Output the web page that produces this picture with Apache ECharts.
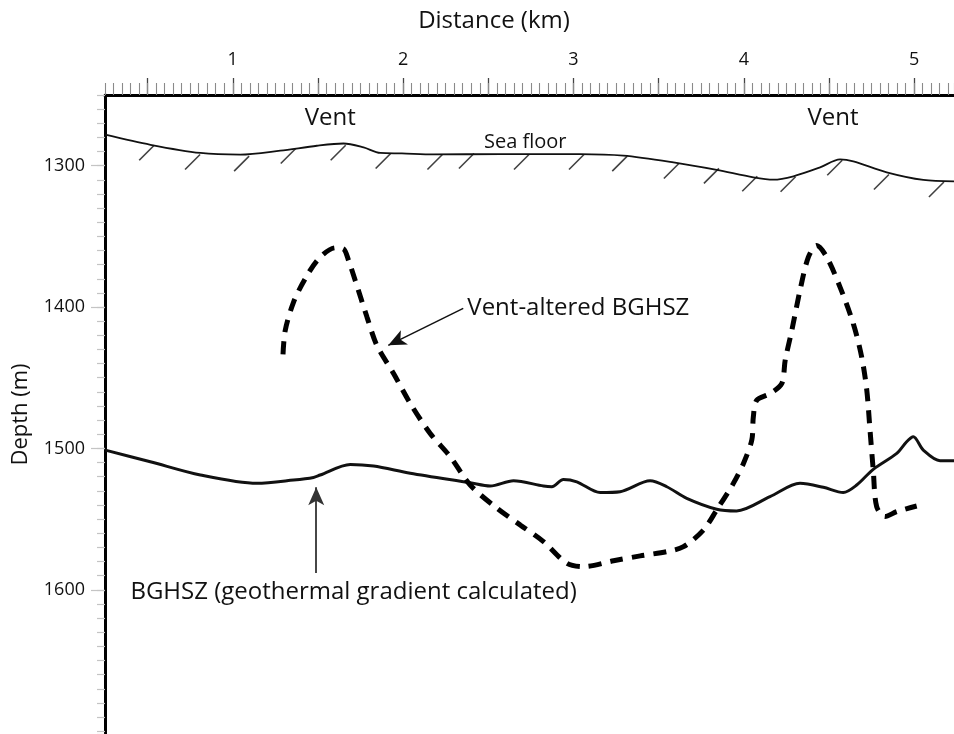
<!DOCTYPE html>
<html>
<head>
<meta charset="utf-8">
<style>
  html, body { margin: 0; padding: 0; background: #fff; }
  #chart { width: 954px; height: 734px; }
</style>
<script src="https://cdn.jsdelivr.net/npm/echarts@6/dist/echarts.min.js"></script>
</head>
<body>
<div id="chart"></div>
<script>
// distance along profile (km) and depth (m)
const seaFloorKm = [0.252, 0.517, 0.810, 1.044, 1.279, 1.494, 1.650, 1.768, 1.866, 1.993, 2.179, 2.570, 2.805, 3.039, 3.293, 3.587, 3.841, 4.056, 4.174, 4.291, 4.448, 4.565, 4.643, 4.839, 5.054, 5.234]
const seaFloorDepth = [1278.1, 1285.2, 1291.0, 1292.2, 1289.4, 1285.9, 1284.3, 1287.1, 1291.0, 1291.3, 1292.0, 1291.8, 1291.8, 1291.8, 1292.9, 1297.7, 1303.0, 1308.2, 1309.9, 1307.5, 1301.2, 1295.6, 1297.0, 1304.7, 1310.1, 1311.1]

// hatch marks under the sea floor
const hatchKm = [0.536, 0.805, 1.093, 1.367, 1.660, 1.924, 2.228, 2.413, 2.736, 3.059, 3.313, 3.616, 3.851, 4.076, 4.301, 4.575, 4.849, 5.172]
const hatchDepth = [1285.9, 1292.4, 1293.6, 1288.2, 1285.9, 1291.7, 1292.4, 1291.7, 1292.4, 1292.4, 1293.6, 1298.8, 1302.3, 1307.8, 1308.2, 1296.5, 1306.6, 1311.9]

// BGHSZ (geothermal gradient calculated)
const bghszKm = [0.252, 0.516, 0.810, 1.142, 1.357, 1.474, 1.513, 1.690, 1.827, 2.042, 2.394, 2.511, 2.648, 2.824, 2.873, 2.941, 3.020, 3.157, 3.274, 3.450, 3.548, 3.665, 3.841, 3.958, 4.154, 4.330, 4.467, 4.584, 4.663, 4.760, 4.898, 4.956, 4.995, 5.054, 5.152, 5.234]
const bghszDepth = [1501.2, 1509.4, 1518.8, 1524.7, 1522.4, 1520.5, 1518.8, 1511.3, 1512.5, 1517.6, 1524.3, 1526.6, 1522.9, 1526.6, 1527.1, 1521.9, 1523.6, 1531.2, 1530.6, 1522.9, 1527.1, 1535.3, 1543.0, 1544.2, 1534.1, 1524.7, 1527.5, 1531.2, 1525.9, 1514.8, 1503.5, 1495.3, 1491.8, 1501.2, 1508.7, 1508.7]

// Vent-altered BGHSZ
const ventKm = [1.295, 1.308, 1.357, 1.425, 1.504, 1.602, 1.650, 1.680, 1.719, 1.788, 1.846, 1.944, 2.042, 2.159, 2.277, 2.394, 2.551, 2.687, 2.824, 2.961, 3.059, 3.235, 3.392, 3.548, 3.646, 3.763, 3.841, 3.939, 3.998, 4.047, 4.056, 4.076, 4.154, 4.223, 4.243, 4.282, 4.330, 4.379, 4.428, 4.487, 4.565, 4.643, 4.692, 4.722, 4.741, 4.760, 4.780, 4.829, 4.898, 5.015]
const ventDepth = [1433.4, 1416.5, 1396.5, 1380.0, 1365.9, 1358.1, 1358.8, 1367.1, 1381.2, 1407.1, 1427.1, 1447.0, 1468.2, 1489.4, 1505.9, 1525.9, 1542.3, 1554.1, 1565.9, 1581.2, 1583.6, 1579.5, 1576.0, 1573.0, 1569.5, 1557.7, 1543.5, 1524.7, 1510.6, 1494.1, 1477.7, 1465.9, 1461.2, 1454.1, 1437.6, 1416.5, 1388.2, 1364.7, 1356.5, 1364.7, 1385.9, 1411.8, 1435.3, 1458.8, 1487.1, 1515.3, 1541.2, 1548.2, 1544.7, 1540.7]

// axis ticks
const kmLabels = [1, 2, 3, 4, 5]
const halfKmTicks = [0.5, 1, 1.5, 2, 2.5, 3, 3.5, 4, 4.5, 5]
const depthLabels = [1300, 1400, 1500, 1600]

const zip = (xs, ys) => xs.map((x, i) => [x, ys[i]])

const FONT = 'Open Sans'
const INK = '#111'
const X_MIN = 0.25, X_MAX = 5.234
const Y_MIN = 1250, Y_MAX = 1702

let myChart = echarts.init(document.getElementById('chart'))
myChart.setOption({
    animation: false,
    textStyle: { fontFamily: FONT },
    grid: [
        { left: 105, top: 95, right: 0, bottom: 0, outerBoundsMode: 'none' },
        { left: 105, top: 95, right: 0, bottom: 0, outerBoundsMode: 'none' } // 只用来画小刻度
    ],
    graphic: [{
        type: 'text',
        x: 494,
        y: 21,
        style: {
            text: 'Distance (km)',
            fontFamily: FONT,
            fontSize: 24,
            fill: INK,
            align: 'center',
            verticalAlign: 'middle'
        }
    }],
    xAxis: [{
        gridIndex: 0,
        type: 'value',
        position: 'top',
        min: X_MIN,
        max: X_MAX,
        axisLine: { show: true, onZero: false, lineStyle: { color: '#000', width: 3 } },
        axisTick: { show: true, length: 17, customValues: halfKmTicks, lineStyle: { color: '#444', width: 1.3 } },
        axisLabel: { customValues: kmLabels, margin: 26, fontSize: 18, color: INK, fontFamily: FONT },
        splitLine: { show: false }
    }, {
        gridIndex: 1,
        type: 'value',
        position: 'top',
        min: X_MIN,
        max: X_MAX,
        interval: 0.05,
        axisLine: { show: false },
        axisTick: { show: true, length: 12, lineStyle: { color: '#8a8a8a', width: 1.1 } },
        axisLabel: { show: false },
        splitLine: { show: false }
    }],
    yAxis: [{
        gridIndex: 0,
        type: 'value',
        inverse: true,
        min: Y_MIN,
        max: Y_MAX,
        name: 'Depth (m)',
        nameLocation: 'middle',
        nameGap: 73,
        nameRotate: 90,
        nameTextStyle: { fontSize: 22, color: INK, fontFamily: FONT },
        axisLine: { show: true, onZero: false, lineStyle: { color: '#000', width: 3 } },
        axisTick: { show: true, length: 14, customValues: depthLabels, lineStyle: { color: '#c4c4c4', width: 1.2 } },
        axisLabel: {
            customValues: depthLabels,
            margin: 20,
            fontSize: 18,
            color: INK,
            fontFamily: FONT,
            formatter: function (v) { return String(v) }
        },
        splitLine: { show: false }
    }, {
        gridIndex: 1,
        type: 'value',
        inverse: true,
        min: Y_MIN,
        max: Y_MAX,
        interval: 10,
        axisLine: { show: false },
        axisTick: { show: true, length: 8, lineStyle: { color: '#c4c4c4', width: 1.2 } },
        axisLabel: { show: false },
        splitLine: { show: false }
    }],
    series: [{
        name: 'Sea floor',
        type: 'line',
        data: zip(seaFloorKm, seaFloorDepth),
        smooth: 0.3,
        symbol: 'none',
        lineStyle: { color: INK, width: 1.8 },
        markPoint: {
            symbol: 'circle',
            symbolSize: 0,
            silent: true,
            label: { show: true, position: 'inside', formatter: '{b}', color: INK, fontFamily: FONT },
            data: [
                { name: 'Vent', coord: [1.572, 1266.5], label: { fontSize: 24 } },
                { name: 'Vent', coord: [4.524, 1266.5], label: { fontSize: 24 } },
                { name: 'Sea floor', coord: [2.717, 1283.8], label: { fontSize: 20 } }
            ]
        }
    }, {
        name: 'hatch',
        type: 'scatter',
        data: zip(hatchKm, hatchDepth),
        symbol: 'path://M0,14 L14,0',
        symbolSize: 15,
        symbolOffset: [-7, 7],
        silent: true,
        itemStyle: { color: 'none', borderColor: INK, borderWidth: 1.6 }
    }, {
        name: 'BGHSZ',
        type: 'line',
        data: zip(bghszKm, bghszDepth),
        smooth: 0.3,
        symbol: 'none',
        lineStyle: { color: INK, width: 3 },
        markLine: {
            silent: true,
            symbol: ['none', 'arrow'],
            symbolSize: [12, 18],
            label: { show: false },
            data: [
                [{ coord: [2.353, 1400.9], lineStyle: { color: INK, width: 1.5, type: 'solid' } },
                 { coord: [1.913, 1427.1] }],
                [{ coord: [1.490, 1588.2], lineStyle: { color: '#333', width: 1.8, type: 'solid' } },
                 { coord: [1.490, 1527.5] }]
            ]
        },
        markPoint: {
            symbol: 'circle',
            symbolSize: 0,
            silent: true,
            label: { show: true, position: 'right', distance: 0, formatter: '{b}', color: INK, fontSize: 24, fontFamily: FONT },
            data: [
                { name: 'Vent-altered BGHSZ', coord: [2.377, 1400.9] },
                { name: 'BGHSZ (geothermal gradient calculated)', coord: [0.399, 1601.4] }
            ]
        }
    }, {
        name: 'Vent-altered BGHSZ',
        type: 'line',
        data: zip(ventKm, ventDepth),
        smooth: 0.3,
        symbol: 'none',
        lineStyle: { color: '#000', width: 5, type: [13, 9], cap: 'butt' }
    }]
})
window.addEventListener('resize', function () {
    myChart.resize()
})
</script>
</body>
</html>
